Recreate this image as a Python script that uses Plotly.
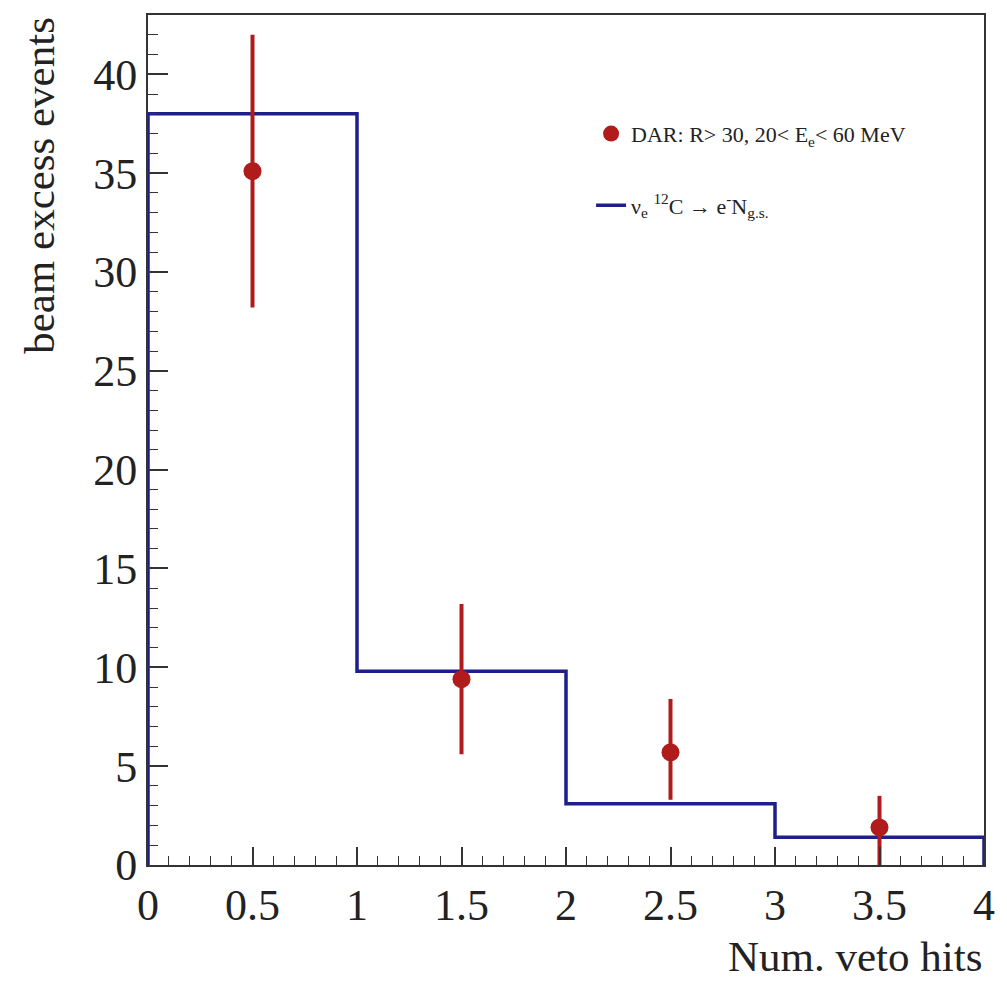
import plotly.graph_objects as go

# Data points (DAR)
pt_x = [0.5, 1.5, 2.5, 3.5]
pt_y = [35.1, 9.4, 5.7, 1.9]
pt_err_plus = [6.9, 3.8, 2.7, 1.6]
pt_err_minus = [6.9, 3.8, 2.4, 1.9]

# Histogram (nu_e 12C -> e- N g.s.)
bin_edges = [0, 1, 2, 3, 4]
bin_vals = [38.0, 9.8, 3.1, 1.4]

x_ticks = [0, 0.5, 1, 1.5, 2, 2.5, 3, 3.5, 4]
x_tick_labels = ["0", "0.5", "1", "1.5", "2", "2.5", "3", "3.5", "4"]
y_ticks = [0, 5, 10, 15, 20, 25, 30, 35, 40]

RED = "#b01c1c"
NAVY = "#1e1e8c"
FONT = "Liberation Serif"

hx = [bin_edges[0]] + bin_edges + [bin_edges[-1]]
hy = [0] + bin_vals + [bin_vals[-1], 0]

fig = go.Figure()
fig.add_trace(go.Scatter(
    x=hx, y=hy, mode="lines", line=dict(color=NAVY, width=3.5, shape="hv"),
    name="ν<sub>e</sub> <sup>12</sup>C → e<sup>-</sup>N<sub>g.s.</sub>",
    legendgroup="h", legendrank=2,
))
fig.add_trace(go.Scatter(
    x=pt_x, y=pt_y, mode="markers",
    marker=dict(color=RED, size=18),
    error_y=dict(type="data", symmetric=False, array=pt_err_plus, arrayminus=pt_err_minus,
                 color=RED, thickness=4, width=0),
    name="DAR: R> 30, 20< E<sub>e</sub>< 60 MeV",
    legendgroup="d", legendrank=1,
))

fig.update_layout(
    width=1007, height=993,
    margin=dict(l=148, r=14, t=15, b=128),
    paper_bgcolor="white", plot_bgcolor="white",
    font=dict(family=FONT, color="#222"),
    showlegend=True,
    legend=dict(x=0.53, y=0.885, xanchor="left", yanchor="top", traceorder="grouped",
                tracegroupgap=40,
                font=dict(size=22, family=FONT, color="#222"), bgcolor="rgba(0,0,0,0)", itemwidth=30),
    xaxis=dict(range=[0, 4], tickmode="array", tickvals=x_ticks, ticktext=x_tick_labels,
               ticks="inside", ticklen=18, tickwidth=1.5, tickcolor="#333",
               minor=dict(ticks="inside", ticklen=9, dtick=0.1, tickcolor="#333", tickwidth=1.2),
               showline=True, linecolor="#333", linewidth=2, mirror=True,
               showgrid=False, zeroline=False,
               tickfont=dict(size=44, family=FONT, color="#222")),
    yaxis=dict(range=[0, 43], tickmode="array", tickvals=y_ticks,
               ticks="inside", ticklen=20, tickwidth=1.5, tickcolor="#333",
               minor=dict(ticks="inside", ticklen=10, dtick=1, tickcolor="#333", tickwidth=1.2),
               showline=True, linecolor="#333", linewidth=2, mirror=True,
               showgrid=False, zeroline=False,
               tickfont=dict(size=44, family=FONT, color="#222")),
    annotations=[
        dict(text="beam excess events", textangle=-90, xref="paper", yref="paper",
             x=-0.13, y=1.0, xanchor="center", yanchor="top", showarrow=False,
             font=dict(size=43, family=FONT, color="#222")),
        dict(text="Num. veto hits", xref="paper", yref="paper",
             x=1.0, y=-0.078, xanchor="right", yanchor="top", showarrow=False,
             font=dict(size=43, family=FONT, color="#222")),
    ],
)

fig.write_html("out.html")
